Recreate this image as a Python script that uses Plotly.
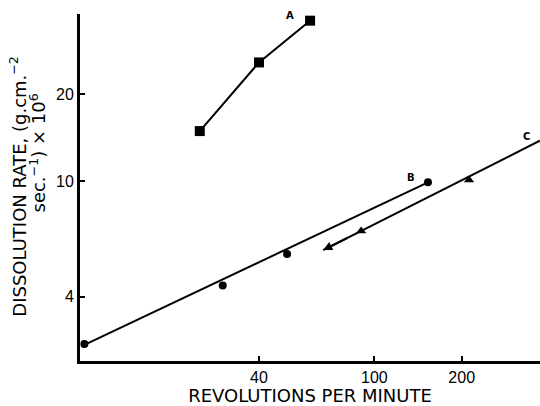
import math
import plotly.graph_objects as go

# ---- data ----
a_rpm = [25, 40, 60]
a_rate = [14.9, 25.7, 35.8]

b_rpm = [10, 30, 50, 153]
b_rate = [2.75, 4.37, 5.61, 9.92]
b_line_rpm = [10, 153]
b_line_rate = [2.73, 9.92]

c_rpm = [90, 212]
c_rate = [6.74, 10.1]
c_line_rpm = [66.6, 372]
c_line_rate = [5.79, 13.8]

x_ticks = [40, 100, 200]
y_ticks = [4, 10, 20]

x_title = "REVOLUTIONS PER MINUTE"
y_title_1 = "DISSOLUTION RATE, (g.cm.<sup>−2</sup>"
y_title_2 = "sec.<sup>−1</sup>) × 10<sup>6</sup>"

fig = go.Figure()
black = "black"

fig.add_trace(go.Scatter(x=a_rpm, y=a_rate, mode="lines+markers",
                         line=dict(color=black, width=2),
                         marker=dict(symbol="square", size=10, color=black),
                         cliponaxis=False, showlegend=False))
fig.add_trace(go.Scatter(x=b_line_rpm, y=b_line_rate, mode="lines",
                         line=dict(color=black, width=2), showlegend=False))
fig.add_trace(go.Scatter(x=b_rpm, y=b_rate, mode="markers",
                         marker=dict(symbol="circle", size=8, color=black),
                         cliponaxis=False, showlegend=False))
fig.add_trace(go.Scatter(x=c_line_rpm, y=c_line_rate, mode="lines",
                         line=dict(color=black, width=2), showlegend=False))
fig.add_trace(go.Scatter(x=c_rpm, y=c_rate, mode="markers",
                         marker=dict(symbol="triangle-up", size=9, color=black),
                         cliponaxis=False, showlegend=False))

# arrowhead at the lower-left end of line C
lx0, ly0 = math.log10(c_line_rpm[0]), math.log10(c_line_rate[0])
lx1, ly1 = math.log10(c_line_rpm[1]), math.log10(c_line_rate[1])
t = 0.12
fig.add_annotation(x=lx0, y=ly0, ax=lx0 + t * (lx1 - lx0), ay=ly0 + t * (ly1 - ly0),
                   xref="x", yref="y", axref="x", ayref="y", text="",
                   showarrow=True, arrowhead=2, arrowsize=0.9, arrowwidth=2,
                   arrowcolor=black, standoff=0)

lab_font = dict(family="DejaVu Sans", size=10, color=black)
fig.add_annotation(x=math.log10(51), y=math.log10(37.2), text="<b>A</b>",
                   showarrow=False, font=lab_font)
fig.add_annotation(x=math.log10(134), y=math.log10(10.3), text="<b>B</b>",
                   showarrow=False, font=lab_font)
fig.add_annotation(x=math.log10(335), y=math.log10(14.3), text="<b>C</b>",
                   showarrow=False, font=lab_font)

title_font = dict(family="DejaVu Sans", size=18, color=black)
fig.add_annotation(x=-0.135, y=0.505, xref="paper", yref="paper", text=y_title_1,
                   textangle=-90, showarrow=False, font=title_font,
                   xanchor="center", yanchor="middle")
fig.add_annotation(x=-0.092, y=0.60, xref="paper", yref="paper", text=y_title_2,
                   textangle=-90, showarrow=False, font=title_font,
                   xanchor="center", yanchor="middle")

tick_font = dict(family="Liberation Sans", size=16, color=black)
fig.update_xaxes(type="log", range=[0.9849, 2.571], tickvals=x_ticks,
                 ticktext=[str(v) for v in x_ticks],
                 showline=True, linecolor=black, linewidth=3,
                 ticks="inside", ticklen=5, tickwidth=2, tickcolor=black,
                 showgrid=False, zeroline=False, tickfont=tick_font,
                 title=dict(text=x_title, font=title_font, standoff=2))
fig.update_yaxes(type="log", range=[0.3803, 1.5769], tickvals=y_ticks,
                 ticktext=[str(v) for v in y_ticks],
                 showline=True, linecolor=black, linewidth=3,
                 ticks="inside", ticklen=5, tickwidth=2, tickcolor=black,
                 showgrid=False, zeroline=False, tickfont=tick_font)

fig.update_layout(width=540, height=406,
                  margin=dict(l=80, r=0, t=14, b=45),
                  paper_bgcolor="white", plot_bgcolor="white")

fig.write_html("out.html")
